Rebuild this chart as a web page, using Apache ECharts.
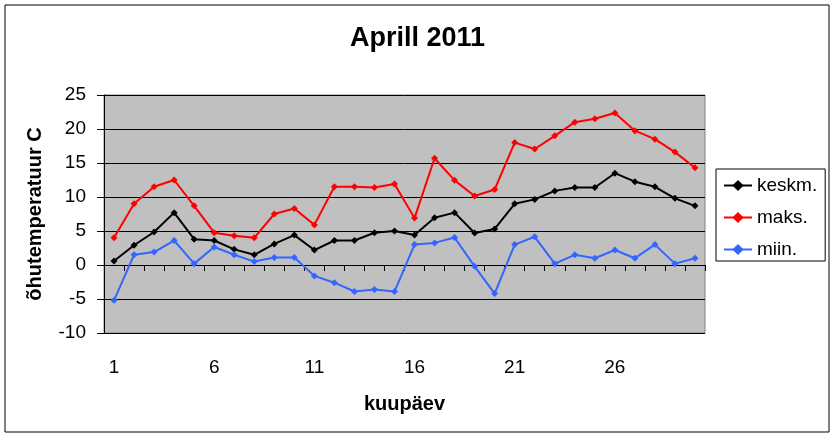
<!DOCTYPE html>
<html><head><meta charset="utf-8">
<script src="https://cdn.jsdelivr.net/npm/echarts@6/dist/echarts.min.js"></script>
<style>html,body{margin:0;padding:0;background:#fff}#c{width:835px;height:437px}</style>
</head><body><div id="c"></div>
<script>
const days = Array.from({length:30},(_,i)=>String(i+1));
const keskm = [0.6,2.9,4.85,7.7,3.8,3.6,2.3,1.5,3.1,4.4,2.2,3.6,3.6,4.75,5.0,4.4,6.95,7.7,4.7,5.3,9.0,9.65,10.9,11.4,11.4,13.5,12.25,11.5,9.8,8.7];
const maks = [4.0,9.0,11.5,12.5,8.7,4.75,4.3,4.0,7.5,8.3,5.9,11.5,11.5,11.4,11.9,6.9,15.7,12.45,10.15,11.1,18.0,17.06,19.0,21.0,21.5,22.35,19.75,18.5,16.6,14.3];
const miin = [-5.2,1.5,1.9,3.6,0.2,2.65,1.5,0.5,1.1,1.1,-1.6,-2.6,-3.9,-3.6,-3.9,3.0,3.25,4.05,-0.2,-4.2,3.0,4.15,0.2,1.5,1.0,2.2,1.0,3.0,0.2,1.0];
const yTicks = [-10,-5,0,5,10,15,20,25];

const font = 'Liberation Sans, Arial, sans-serif';
const chart = echarts.init(document.getElementById('c'));
function ser(name, data, color){
  return {name, type:'line', data, symbol:'diamond', symbolSize:7,
    itemStyle:{color}, lineStyle:{color, width:2}, animation:false};
}
chart.setOption({
  animation:false,
  textStyle:{fontFamily:font},
  graphic:[{type:'rect', shape:{x:5,y:5,width:824,height:427}, style:{fill:'none', stroke:'#000', lineWidth:1}, silent:true}],
  title:{text:'Aprill 2011', left:'center', top:20, textStyle:{fontFamily:font, fontSize:27, fontWeight:'bold', color:'#000'}},
  grid:{left:104, right:130, top:95, bottom:104, show:true, backgroundColor:'#C0C0C0', borderColor:'#808080', borderWidth:1},
  legend:{orient:'vertical', left:716, top:169, padding:[7,8,2,7], itemGap:13, itemWidth:28, itemHeight:14,
    borderColor:'#000', borderWidth:1, backgroundColor:'#fff',
    textStyle:{fontFamily:font, fontSize:19, color:'#000'}, data:['keskm.','maks.','miin.']},
  xAxis:{type:'category', data:days, boundaryGap:true,
    name:'kuupäev', nameLocation:'middle', nameGap:61, nameTextStyle:{fontFamily:font, fontSize:20, fontWeight:'bold', color:'#000'},
    axisLine:{lineStyle:{color:'#000', width:1}},
    axisTick:{show:true, interval:0, length:6, inside:false, lineStyle:{color:'#000'}},
    axisLabel:{interval:4, margin:25, fontSize:19, color:'#000', fontFamily:font},
    splitLine:{show:false}},
  yAxis:{type:'value', min:-10, max:25, interval:5,
    name:'õhutemperatuur C', nameLocation:'middle', nameGap:59, nameRotate:90,
    nameTextStyle:{fontFamily:font, fontSize:20, fontWeight:'bold', color:'#000'},
    axisLine:{show:true, lineStyle:{color:'#000', width:1}},
    axisTick:{show:true, length:7, lineStyle:{color:'#000'}},
    axisLabel:{fontSize:19, color:'#000', margin:18, fontFamily:font,
      formatter:v=>yTicks.includes(v)?String(v):''},
    splitLine:{show:true, lineStyle:{color:'#000', width:1}}},
  series:[ser('keskm.', keskm, '#000000'), ser('maks.', maks, '#FF0000'), ser('miin.', miin, '#3366FF')]
});
</script></body></html>
